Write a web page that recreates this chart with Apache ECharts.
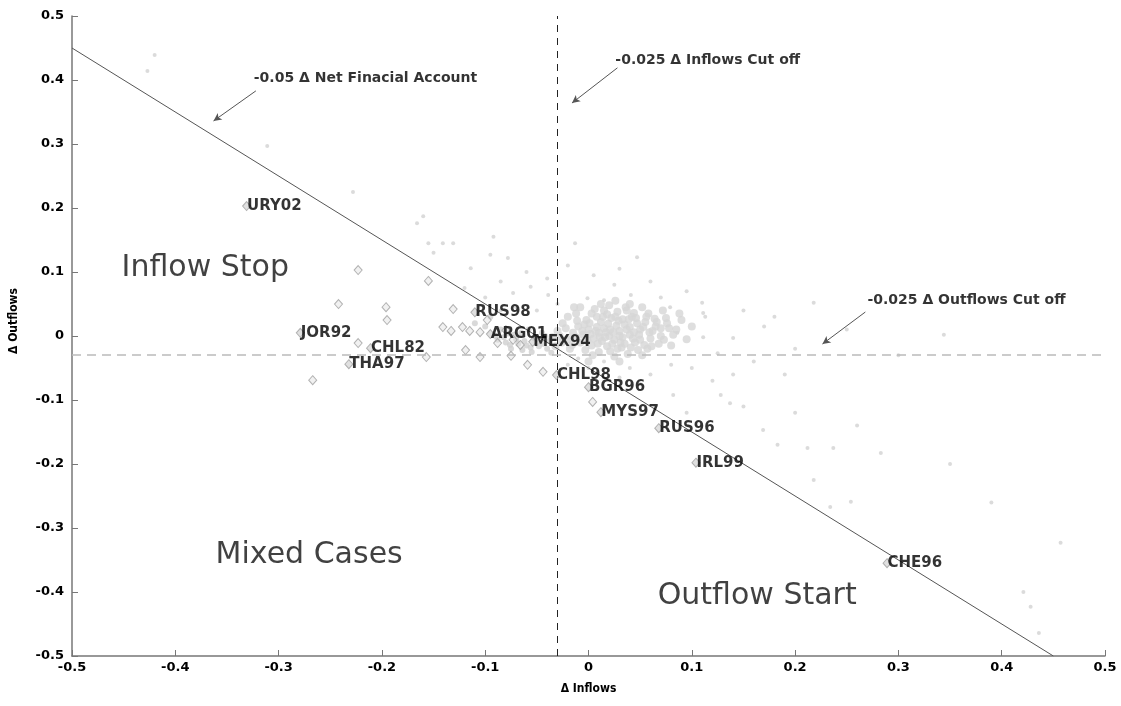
<!DOCTYPE html>
<html>
<head>
<meta charset="utf-8">
<script src="https://cdn.jsdelivr.net/npm/echarts@6/dist/echarts.min.js"></script>
<style>
html,body{margin:0;padding:0;background:#fff;}
#c{width:1121px;height:706px;}
</style>
</head>
<body>
<div id="c"></div>
<script>
// ---------- DATA ----------
const xTicks = [-0.5,-0.4,-0.3,-0.2,-0.1,0,0.1,0.2,0.3,0.4,0.5];
const yTicks = [-0.5,-0.4,-0.3,-0.2,-0.1,0,0.1,0.2,0.3,0.4,0.5];

// faint grey cloud of all observations [Δ Inflows, Δ Outflows]
const cloudPoints = [
[-0.420,0.439],[-0.427,0.414],[-0.311,0.297],[-0.228,0.225],[-0.160,0.187],[-0.166,0.176],[-0.155,0.145],[-0.141,0.145],[-0.131,0.145],[-0.092,0.155],[-0.150,0.130],[-0.114,0.106],[-0.095,0.127],[-0.078,0.122],[-0.013,0.145],[0.047,0.123],[-0.073,0.067],[-0.056,0.077],[-0.039,0.064],[-0.001,0.059],[0.015,0.056],[0.041,0.064],[0.079,0.045],[0.111,0.036],[0.086,0.005],[0.111,-0.002],[0.125,-0.027],[0.110,0.052],[0.218,0.052],[0.140,-0.003],[0.344,0.002],[0.113,0.030],[0.082,-0.092],[0.128,-0.092],[0.137,-0.105],[0.169,-0.147],[0.212,-0.175],[0.237,-0.175],[0.283,-0.183],[0.218,-0.225],[0.183,-0.170],[0.254,-0.259],[0.457,-0.323],[0.421,-0.400],[0.428,-0.423],[0.436,-0.464],[0.234,-0.267],
[-0.060,0.100],[-0.040,0.090],[-0.020,0.110],[0.005,0.095],[0.025,0.080],[0.060,0.085],[0.030,0.105],[-0.085,0.085],[-0.100,0.060],[-0.120,0.075],[-0.070,0.045],[-0.050,0.040],[-0.030,0.050],[-0.085,0.040],[0.070,0.060],[0.095,0.070],[0.150,0.040],[0.170,0.015],[0.160,-0.040],[0.190,-0.060],[0.140,-0.060],[0.100,-0.050],[0.120,-0.070],[0.060,-0.060],[0.080,-0.045],[0.040,-0.050],[0.050,-0.075],[0.030,-0.065],[0.095,-0.120],[0.150,-0.110],[0.200,-0.120],[0.260,-0.140],[0.300,-0.030],[0.250,0.010],[0.200,-0.020],[0.180,0.030],[0.350,-0.200],[0.390,-0.260],[-0.020,-0.045],[0.000,-0.050],[0.015,-0.040],[-0.010,-0.035]
];

// dense core of the cloud
const corePoints = [
[0.010,0.005],[0.020,0.000],[0.015,0.012],[0.030,0.008],[0.025,-0.006],[0.005,-0.004],[0.000,0.010],[-0.005,0.002],[0.035,0.018],[0.040,0.002],[0.045,-0.010],[0.012,0.022],[0.022,0.028],[0.008,0.030],[-0.010,0.015],[-0.015,0.005],[-0.020,-0.005],[0.050,0.010],[0.055,0.022],[0.060,-0.004],[0.032,-0.018],[0.018,-0.016],[0.003,-0.015],[-0.008,-0.010],[0.042,0.030],[0.028,0.038],[0.015,0.040],[-0.002,0.025],[0.065,0.015],[0.070,0.000],[0.048,-0.022],[0.038,-0.028],[0.010,-0.025],[-0.025,0.020],[-0.030,0.008],[-0.035,-0.002],[0.058,0.035],[0.075,0.028],[0.080,-0.015],[0.020,0.048],[-0.012,0.035],[0.036,0.045],[0.006,0.042],[-0.020,0.030],[0.052,-0.030],[0.025,-0.032],[-0.004,0.018],[0.017,0.006],[0.027,0.016],[0.037,0.010],[0.047,0.020],[0.013,-0.008],[0.023,-0.012],[0.033,-0.002],[0.043,-0.004],[0.062,0.008],[0.068,-0.012],[0.085,0.010],[0.090,0.025],[0.095,-0.005],[0.002,0.003],[0.008,0.014],[0.019,0.019],[0.029,0.024],[0.039,0.026],[0.049,0.002],[0.054,-0.014],[0.031,-0.010],[0.021,0.010],[0.011,-0.002],[-0.001,-0.007],[-0.011,0.024],[-0.016,-0.014],[0.044,0.036],[0.064,0.027],[0.072,0.040],[0.078,0.012],[0.057,-0.020],[0.003,0.035],[-0.026,-0.010],
[-0.028,0.000],[-0.022,0.012],[-0.018,-0.020],[-0.012,-0.002],[-0.006,0.008],[-0.003,-0.022],[0.001,0.020],[0.004,-0.030],[0.007,0.008],[0.009,-0.012],[0.014,0.030],[0.016,-0.002],[0.018,0.034],[0.021,-0.024],[0.024,0.006],[0.026,0.030],[0.028,-0.020],[0.030,0.000],[0.033,0.026],[0.035,-0.012],[0.037,0.040],[0.040,0.014],[0.041,-0.018],[0.044,0.006],[0.046,0.028],[0.050,-0.006],[0.053,0.014],[0.056,0.030],[0.059,0.006],[0.061,-0.016],[0.066,0.022],[0.070,0.012],[0.073,-0.006],[0.076,0.020],[0.082,0.002],[0.012,0.050],[0.026,0.055],[0.040,0.050],[0.052,0.045],[-0.008,0.045],[0.000,-0.040],[0.030,-0.040],[-0.032,-0.016],[0.088,0.035],[0.100,0.015],[-0.014,0.045]
];

// grey band along the diagonal (lower-left of core)
const bandPoints = [
[-0.090,0.000],[-0.080,-0.010],[-0.070,-0.005],[-0.060,-0.015],[-0.065,0.005],[-0.050,-0.010],[-0.045,0.005],[-0.055,-0.025],[-0.040,-0.020],[-0.075,-0.020],[-0.085,0.010],[-0.100,0.015],[-0.110,0.020],[-0.095,0.030],[-0.062,-0.008],[-0.072,0.002],[-0.048,-0.016],[-0.038,-0.008],[-0.082,-0.002],[-0.058,0.010],
[-0.068,-0.012],[-0.052,-0.004],[-0.044,-0.012],[-0.036,-0.026],[-0.078,0.004],[-0.088,-0.006],[-0.056,-0.018],[-0.042,0.000],[-0.064,-0.022],[-0.076,-0.014]
];

// crisis episodes (diamonds) without label
const episodePoints = [
[-0.223,0.103],[-0.155,0.086],[-0.242,0.050],[-0.196,0.045],[-0.195,0.025],[-0.223,-0.011],[-0.267,-0.069],[-0.157,-0.033],[-0.131,0.042],[-0.141,0.014],[-0.133,0.008],[-0.122,0.014],[-0.115,0.008],[-0.119,-0.022],[-0.105,-0.033],[-0.098,0.025],[-0.105,0.006],[-0.088,-0.011],[-0.075,-0.031],[-0.073,-0.006],[-0.066,-0.014],[-0.059,-0.045],[-0.044,-0.056],[0.004,-0.103],[-0.080,0.009]
];

// labelled episodes
const labelNames = ['URY02','JOR92','CHL82','THA97','RUS98','ARG01','MEX94','CHL98','BGR96','MYS97','RUS96','IRL99','CHE96'];
const labelX = [-0.331,-0.279,-0.211,-0.232,-0.110,-0.095,-0.054,-0.031,0.000,0.012,0.068,0.104,0.289];
const labelY = [0.203,0.005,-0.019,-0.044,0.037,0.003,-0.009,-0.061,-0.080,-0.119,-0.144,-0.198,-0.355];

// thresholds
const netCut = -0.05;      // Δ Net Financial Account cut-off: out = netCut - in
const inflowCut = -0.025;
const outflowCut = -0.025;
const netLineX = [-0.5, 0.45];

// annotations
const annoTexts = ['-0.05 \u0394 Net Finacial Account','-0.025 \u0394 Inflows Cut off','-0.025 \u0394 Outflows Cut off'];
const annoTextX = [-0.324, 0.026, 0.270];
const annoTextY = [0.403, 0.430, 0.055];
const arrowFrom = [[-0.322,0.383],[0.028,0.419],[0.268,0.0375]];
const arrowTo   = [[-0.363,0.336],[-0.016,0.364],[0.2265,-0.0125]];

// region names
const regionNames = ['Inflow Stop','Mixed Cases','Outflow Start'];
const regionX = [-0.452,-0.361,0.067];
const regionY = [0.106,-0.342,-0.406];

// ---------- CHART ----------
const chart = echarts.init(document.getElementById('c'), null, {renderer:'canvas'});
const fmt = v => String(+(+v).toFixed(1));
const tickFont = {fontFamily:'DejaVu Sans', fontWeight:'bold', fontSize:13, color:'#000'};

const option = {
  backgroundColor:'#fff',
  animation:false,
  grid:{left:72,right:16,top:16,bottom:50},
  xAxis:{
    type:'value',min:xTicks[0],max:xTicks[xTicks.length-1],interval:0.1,
    name:'\u0394 Inflows',nameLocation:'middle',nameGap:27,
    nameTextStyle:{fontFamily:'DejaVu Sans Condensed',fontWeight:'bold',fontSize:12,color:'#000'},
    axisLine:{onZero:false,lineStyle:{color:'#777',width:1.5}},
    axisTick:{inside:true,length:6,lineStyle:{color:'#777'}},
    axisLabel:Object.assign({formatter:fmt,margin:5},tickFont),
    splitLine:{show:false}
  },
  yAxis:{
    type:'value',min:yTicks[0],max:yTicks[yTicks.length-1],interval:0.1,
    name:'\u0394 Outflows',nameLocation:'middle',nameGap:52,nameRotate:90,
    nameTextStyle:{fontFamily:'DejaVu Sans Condensed',fontWeight:'bold',fontSize:12,color:'#000',padding:[0,0,0,30]},
    axisLine:{onZero:false,lineStyle:{color:'#777',width:1.5}},
    axisTick:{inside:true,length:6,lineStyle:{color:'#777'}},
    axisLabel:Object.assign({formatter:fmt,margin:8},tickFont),
    splitLine:{show:false}
  },
  series:[
    {
      type:'scatter',name:'cloud',data:cloudPoints,symbol:'circle',symbolSize:4,
      itemStyle:{color:'rgba(190,190,190,0.7)'},silent:true,z:1
    },
    {
      type:'scatter',name:'core',data:corePoints,symbol:'circle',symbolSize:8,
      itemStyle:{color:'#d6d6d6'},silent:true,z:1
    },
    {
      type:'scatter',name:'band',data:bandPoints,symbol:'circle',symbolSize:6,
      itemStyle:{color:'#cfcfcf'},silent:true,z:1
    },
    {
      type:'line',name:'net',data:netLineX.map(x=>[x, netCut - x]),showSymbol:false,symbol:'none',
      lineStyle:{color:'#555',width:1},z:3,
      markLine:{
        silent:true,symbol:['none','none'],label:{show:false},animation:false,
        data:[
          {xAxis:inflowCut,lineStyle:{color:'#222',type:[7,6],width:1}},
          {yAxis:outflowCut,lineStyle:{color:'#bbb',type:[9,6],width:1.5}}
        ]
      }
    },
    {
      type:'scatter',name:'episodes',data:episodePoints,symbol:'diamond',symbolSize:[8,9],
      itemStyle:{color:'rgba(225,225,225,0.6)',borderColor:'#a0a0a0',borderWidth:1},z:4
    },
    {
      type:'scatter',name:'labelled',data:labelX.map((x,i)=>[x,labelY[i],labelNames[i]]),
      symbol:'diamond',symbolSize:[8,9],
      itemStyle:{color:'rgba(200,200,200,0.7)',borderColor:'#a0a0a0',borderWidth:1},z:5,
      label:{show:true,position:'right',distance:-4,formatter:p=>p.data[2],
        fontFamily:'DejaVu Sans',fontWeight:'bold',fontSize:15,color:'#000'}
    },
    {
      type:'scatter',name:'anno',data:annoTextX.map((x,i)=>[x,annoTextY[i],annoTexts[i]]),
      symbolSize:0,z:6,silent:true,
      label:{show:true,position:'right',distance:0,formatter:p=>p.data[2],
        fontFamily:'DejaVu Sans',fontWeight:'bold',fontSize:14,color:'#000'},
      markLine:{
        silent:true,symbol:['none','arrow'],symbolSize:[6,8],label:{show:false},
        lineStyle:{color:'#555',width:1,type:'solid'},
        data:arrowFrom.map((f,i)=>[{coord:f},{coord:arrowTo[i]}])
      }
    },
    {
      type:'scatter',name:'regions',data:regionX.map((x,i)=>[x,regionY[i],regionNames[i]]),
      symbolSize:0,z:6,silent:true,
      label:{show:true,position:'right',distance:0,formatter:p=>p.data[2],
        fontFamily:'DejaVu Sans',fontSize:30,color:'#111'}
    }
  ]
};
chart.setOption(option);
</script>
</body>
</html>
